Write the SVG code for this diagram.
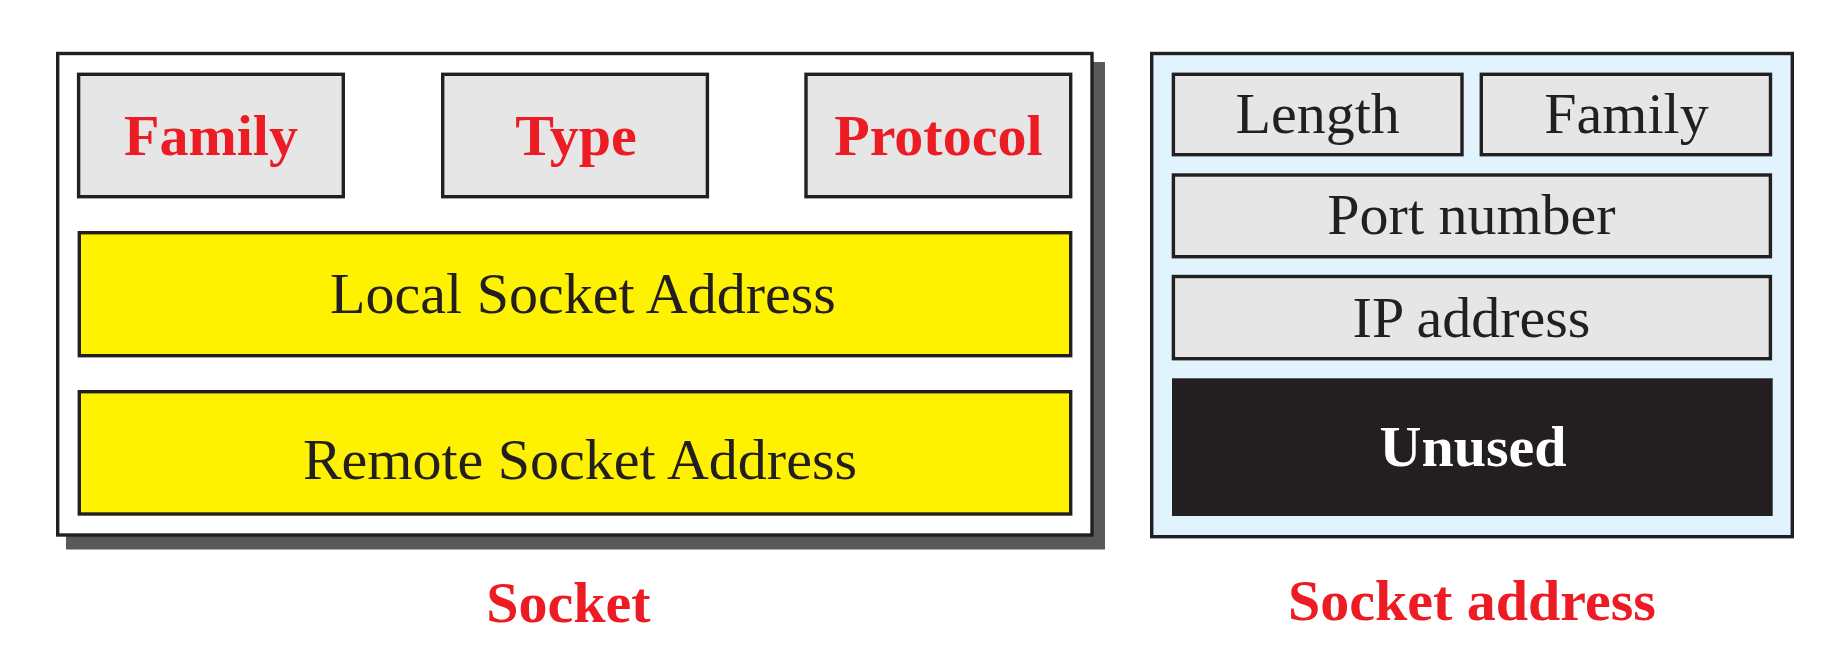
<svg xmlns="http://www.w3.org/2000/svg" width="1828" height="652" viewBox="0 0 1828 652">
<style>
.box{stroke:#231F20;stroke-width:3.4}
.gray{fill:#E6E6E6}
.yellow{fill:#FFF200}
.t{font-family:"Liberation Serif","Times New Roman",serif;font-size:58px;text-anchor:middle;fill:#231F20}
.red{fill:#ED1C24;font-weight:bold}
.white{fill:#FFFFFF;font-weight:bold}
</style>
<rect width="1828" height="652" fill="#FFFFFF"/>
<g id="socket">
<rect x="66" y="62" width="1039" height="487.5" fill="#58595B"/>
<rect class="box" x="57.7" y="53.5" width="1034.3" height="481.5" fill="#FFFFFF"/>
</g>
<g id="family">
<rect class="box gray" x="78.6" y="74.3" width="264.7" height="122.4"/>
<text class="t red" x="211" y="154.6">Family</text>
</g>
<g id="type">
<rect class="box gray" x="442.7" y="74.3" width="264.7" height="122.4"/>
<text class="t red" x="576" y="154.6">Type</text>
</g>
<g id="protocol">
<rect class="box gray" x="806" y="74.3" width="264.7" height="122.4"/>
<text class="t red" x="938.4" y="154.6">Protocol</text>
</g>
<g id="local">
<rect class="box yellow" x="79.3" y="232.7" width="991.4" height="123"/>
<text class="t" x="583" y="313">Local Socket Address</text>
</g>
<g id="remote">
<rect class="box yellow" x="79.3" y="391.7" width="991.4" height="122.3"/>
<text class="t" x="580" y="478.5">Remote Socket Address</text>
</g>
<text class="t red" x="568.5" y="622">Socket</text>
<g id="socket-address">
<rect class="box" x="1151.7" y="53.5" width="640.6" height="483.2" fill="#E1F3FD"/>
</g>
<g id="length">
<rect class="box gray" x="1173.4" y="74.3" width="288.6" height="80.4"/>
<text class="t" x="1317.7" y="133">Length</text>
</g>
<g id="family2">
<rect class="box gray" x="1481.3" y="74.3" width="289.2" height="80.4"/>
<text class="t" x="1626.5" y="133">Family</text>
</g>
<g id="port">
<rect class="box gray" x="1173.4" y="175" width="597" height="81.7"/>
<text class="t" x="1471.5" y="234">Port number</text>
</g>
<g id="ip">
<rect class="box gray" x="1173.4" y="276.5" width="597" height="82.2"/>
<text class="t" x="1471.5" y="337">IP address</text>
</g>
<g id="unused">
<rect x="1172" y="378.3" width="600.7" height="137.7" fill="#231F20"/>
<text class="t white" x="1473" y="466">Unused</text>
</g>
<text class="t red" x="1472" y="620">Socket address</text>
<g id="connectors"/>
</svg>
